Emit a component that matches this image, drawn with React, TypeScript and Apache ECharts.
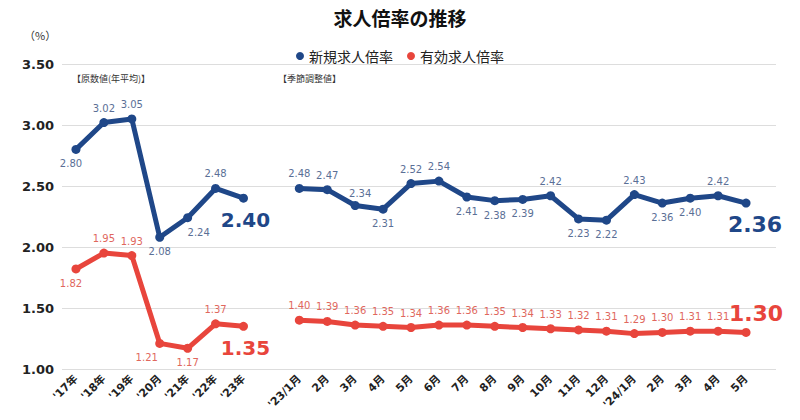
import React, { useEffect, useRef } from "react";
import * as echarts from "echarts";

const annualCats = ["'17年", "'18年", "'19年", "'20月", "'21年", "'22年", "'23年"];
const monthlyCats = ["'23/1月", "2月", "3月", "4月", "5月", "6月", "7月", "8月", "9月", "10月", "11月", "12月", "'24/1月", "2月", "3月", "4月", "5月"];

const newAnnual = [2.8, 3.02, 3.05, 2.08, 2.24, 2.48, 2.4];
const newMonthly = [2.48, 2.47, 2.34, 2.31, 2.52, 2.54, 2.41, 2.38, 2.39, 2.42, 2.23, 2.22, 2.43, 2.36, 2.4, 2.42, 2.36];
const effAnnual = [1.82, 1.95, 1.93, 1.21, 1.17, 1.37, 1.35];
const effMonthly = [1.4, 1.39, 1.36, 1.35, 1.34, 1.36, 1.36, 1.35, 1.34, 1.33, 1.32, 1.31, 1.29, 1.3, 1.31, 1.31, 1.3];

const yTicks = [1.0, 1.5, 2.0, 2.5, 3.0, 3.5];

// label placement codes (style)
const newPlace = ["bl", "t", "t", "b", "br", "t", "bigB", "t", "t", "tr", "b", "t", "t", "b", "b", "b", "t", "b", "b", "t", "b", "b", "t", "bigB2"];
const effPlace = ["bl", "t", "t", "bl2", "b", "t", "bigB", "t", "t", "t", "t", "t", "t", "t", "t", "t", "t", "t", "t", "t", "t", "t", "t", "bigT"];

const categories = [...annualCats, "", ...monthlyCats];
const newValues: (number | null)[] = [...newAnnual, null, ...newMonthly];
const effValues: (number | null)[] = [...effAnnual, null, ...effMonthly];

const NUM_FONT = "'DejaVu Sans', 'Noto Sans CJK JP', sans-serif";
const JP_FONT = "'Noto Sans CJK JP', 'DejaVu Sans', sans-serif";

function labelFor(code: string, color: string, bigColor: string) {
  const base: any = {
    show: true,
    color,
    fontSize: 10,
    fontFamily: NUM_FONT,
    distance: 5,
    formatter: (p: any) => Number(p.value).toFixed(2),
  };
  switch (code) {
    case "t":
      return { ...base, position: "top" };
    case "tr":
      return { ...base, position: "top", offset: [5, 2] };
    case "b":
      return { ...base, position: "bottom" };
    case "bl":
      return { ...base, position: "bottom", offset: [-5, 0] };
    case "bl2":
      return { ...base, position: "bottom", offset: [-13, 0] };
    case "br":
      return { ...base, position: "bottom", offset: [11, 0] };
    case "bigB":
      return { ...base, position: "bottom", fontSize: 20, fontWeight: "bold", color: bigColor, offset: [2, 2] };
    case "bigB2":
      return { ...base, position: "bottom", fontSize: 22, fontWeight: "bold", color: bigColor, offset: [9, 1] };
    case "bigT":
      return { ...base, position: "top", fontSize: 22, fontWeight: "bold", color: bigColor, offset: [10, 2] };
    default:
      return base;
  }
}

function buildData(values: (number | null)[], places: string[], color: string, bigColor: string) {
  let k = 0;
  return values.map((v) => {
    if (v === null) return null;
    const code = places[k++];
    return { value: v, label: labelFor(code, color, bigColor) };
  });
}

export default function App() {
  const ref = useRef<HTMLDivElement>(null);
  useEffect(() => {
    if (!ref.current) return;
    const chart = echarts.init(ref.current, null, { renderer: "svg" });
    const blue = "#1f4788";
    const red = "#e8453c";
    chart.setOption({
      animation: false,
      backgroundColor: "#ffffff",
      title: {
        text: "求人倍率の推移",
        left: "center",
        top: 3,
        textStyle: { fontSize: 19, fontWeight: "bold", color: "#111", fontFamily: JP_FONT },
      },
      legend: {
        top: 44,
        left: "center",
        icon: "circle",
        itemWidth: 8,
        itemHeight: 8,
        itemGap: 14,
        textStyle: { fontSize: 14, color: "#222", fontFamily: JP_FONT },
        data: ["新規求人倍率", "有効求人倍率"],
      },
      graphic: [
        { type: "text", left: 24, top: 29, style: { text: "（%）", fontSize: 11, fill: "#333", fontFamily: JP_FONT } },
        { type: "text", left: 72, top: 74, style: { text: "【原数値(年平均)】", fontSize: 9, fill: "#333", fontFamily: JP_FONT } },
        { type: "text", left: 278, top: 74, style: { text: "【季節調整値】", fontSize: 9, fill: "#333", fontFamily: JP_FONT } },
      ],
      grid: [
        { left: 62, right: 24, top: 64, bottom: 51 },
        { left: 62, width: 698, top: 64, bottom: 51 },
      ],
      xAxis: [
        { type: "value", gridIndex: 0, min: 0, max: 1, show: false },
        {
          type: "category",
          gridIndex: 1,
          data: categories,
          boundaryGap: true,
          axisLine: { show: false },
          axisTick: { show: false },
          axisLabel: {
            interval: 0,
            rotate: 45,
            margin: 8,
            fontSize: 11,
            fontWeight: "bold",
            color: "#222",
            fontFamily: NUM_FONT,
          },
        },
      ],
      yAxis: [
        {
          type: "value",
          gridIndex: 0,
          min: yTicks[0],
          max: yTicks[yTicks.length - 1],
          interval: 0.5,
          axisLine: { show: false },
          axisTick: { show: false },
          splitLine: { lineStyle: { color: "#dddddd", width: 1 } },
          axisLabel: {
            margin: 8,
            fontSize: 13,
            fontWeight: "bold",
            color: "#222",
            fontFamily: NUM_FONT,
            formatter: (v: number) => v.toFixed(2),
          },
        },
        {
          type: "value",
          gridIndex: 1,
          min: yTicks[0],
          max: yTicks[yTicks.length - 1],
          interval: 0.5,
          show: false,
          splitLine: { show: false },
        },
      ],
      series: [
        {
          name: "新規求人倍率",
          type: "line",
          xAxisIndex: 1,
          yAxisIndex: 1,
          data: buildData(newValues, newPlace, "#5a6f96", blue),
          connectNulls: false,
          symbol: "circle",
          symbolSize: 9,
          itemStyle: { color: blue },
          lineStyle: { color: blue, width: 5 },
        },
        {
          name: "有効求人倍率",
          type: "line",
          xAxisIndex: 1,
          yAxisIndex: 1,
          data: buildData(effValues, effPlace, "#e0675d", red),
          connectNulls: false,
          symbol: "circle",
          symbolSize: 9,
          itemStyle: { color: red },
          lineStyle: { color: red, width: 5 },
        },
      ],
    });
    return () => chart.dispose();
  }, []);
  return <div ref={ref} style={{ width: 800, height: 420, position: "absolute", left: 0, top: 0 }} />;
}
